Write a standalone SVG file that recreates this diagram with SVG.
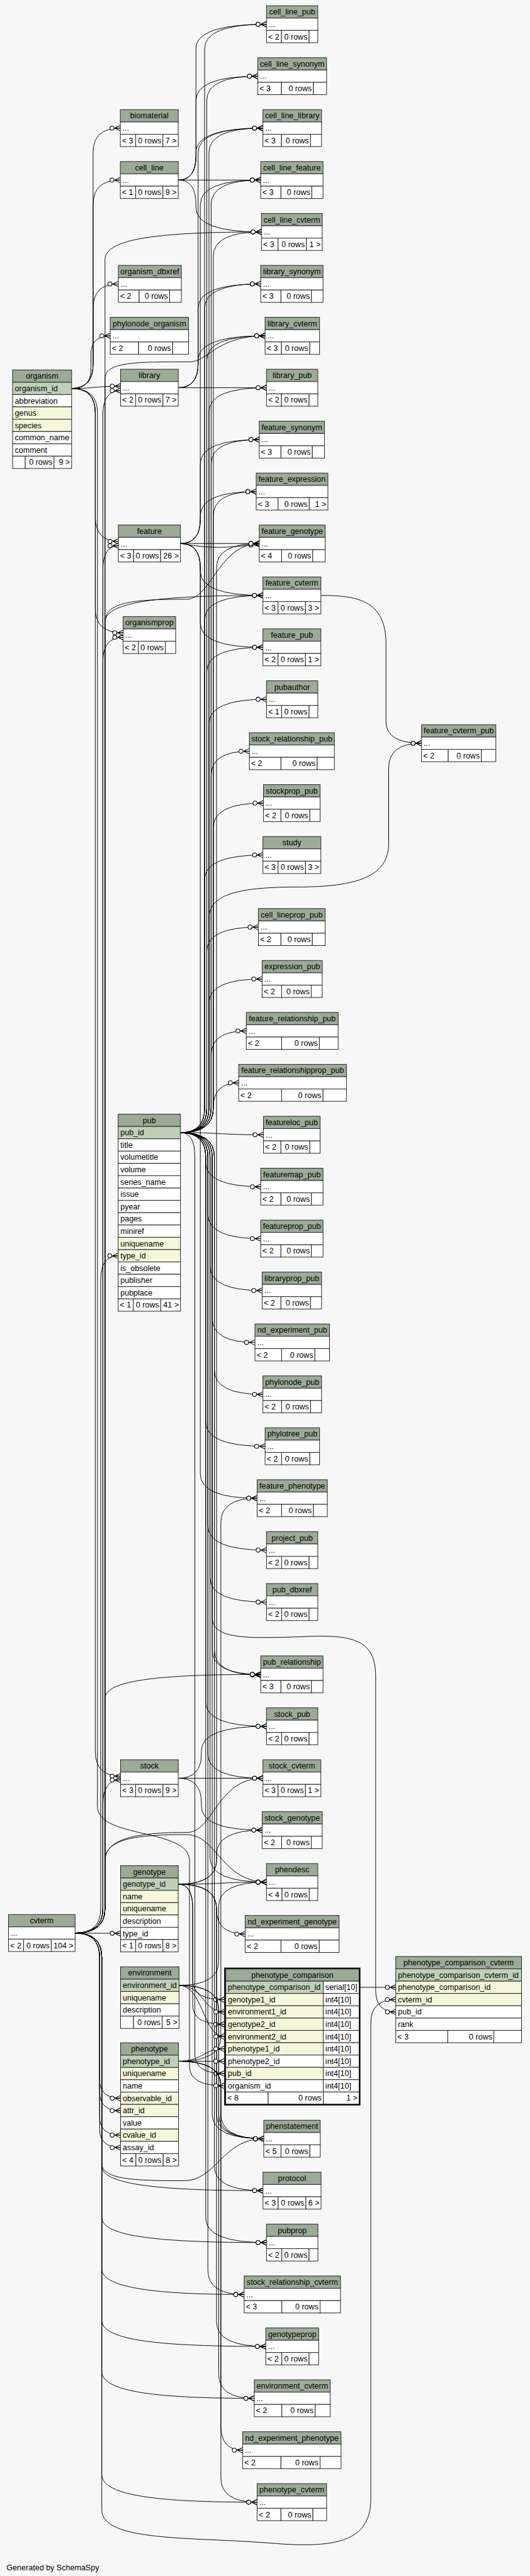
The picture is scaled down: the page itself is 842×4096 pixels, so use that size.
<svg xmlns="http://www.w3.org/2000/svg" width="842" height="4096" viewBox="0 0 842 4096">
<defs>
<style>
.t text{font-family:"Liberation Sans",Arial,Helvetica,sans-serif;font-size:14.6px;fill:#000}
.t .h{text-anchor:middle}
.t .r{text-anchor:end}
.t rect{stroke:#2b2b2b;stroke-width:1.2}
.hd{fill:#9bab96}
.pk{fill:#bed1b8}
.ix{fill:#f4f7da}
.rw{fill:#fff}
.e path{fill:none;stroke:#000;stroke-width:1.1;marker-end:url(#cf)}
</style>
<marker id="cf" viewBox="-21 -7 23 14" refX="0" refY="0" markerWidth="23" markerHeight="14" markerUnits="userSpaceOnUse" orient="auto">
<path d="M-10.5,0L0,-5M-10.5,0L0,0M-10.5,0L0,5" fill="none" stroke="#000" stroke-width="1.2"/>
<circle cx="-15.5" cy="0" r="3.8" fill="#fff" stroke="#000" stroke-width="1.2"/>
</marker>
</defs>
<rect width="842" height="4096" fill="#f7f7f7"/>
<g transform="scale(0.86)">
<g id="connectors" class="e">
<path d="M329.3,332.9Q362,332.9 362,288L362,90Q362,44.9 492.3,44.9"/>
<path d="M329.3,332.9Q362,332.9 362,288L362,186Q362,140.9 476.3,140.9"/>
<path d="M329.3,332.9Q362,332.9 362,288L362,282Q362,236.9 485.7,236.9"/>
<path d="M329.3,332.9L481.7,332.9"/>
<path d="M329.3,332.9Q362,332.9 362,378L362,384Q362,428.9 483,428.9"/>
<path d="M329.3,716.9Q366,716.9 366,672L366,282Q366,236.9 485.7,236.9"/>
<path d="M329.3,716.9Q366,716.9 366,672L366,570Q366,524.9 481.7,524.9"/>
<path d="M329.3,716.9Q366,716.9 366,672L366,666Q366,620.9 489.7,620.9"/>
<path d="M329.3,716.9L492.3,716.9"/>
<path d="M333.3,1004.9Q370,1004.9 370,960L370,378Q370,332.9 481.7,332.9"/>
<path d="M333.3,1004.9Q370,1004.9 370,960L370,858Q370,812.9 479,812.9"/>
<path d="M333.3,1004.9Q370,1004.9 370,960L370,954Q370,908.9 473.3,908.9"/>
<path d="M333.3,1004.9L479,1004.9"/>
<path d="M333.3,1004.9C400,1016 420,1012 479,1006"/>
<path d="M333.3,1004.9Q370,1004.9 370,1050L370,1056Q370,1100.9 485.7,1100.9"/>
<path d="M333.3,1004.9Q370,1004.9 370,1050L370,1152Q370,1196.9 485.7,1196.9"/>
<path d="M333.3,1004.9Q370,1004.9 370,1050L370,2725Q370,2770.1 475,2770.1"/>
<path d="M333.3,2094.2Q378,2094.2 378,2049L378,90Q378,44.9 492.3,44.9"/>
<path d="M333.3,2094.2Q382,2094.2 382,2049L382,186Q382,140.9 476.3,140.9"/>
<path d="M333.3,2094.2Q386,2094.2 386,2049L386,282Q386,236.9 485.7,236.9"/>
<path d="M333.3,2094.2Q390,2094.2 390,2049L390,378Q390,332.9 481.7,332.9"/>
<path d="M333.3,2094.2Q394,2094.2 394,2049L394,474Q394,428.9 483,428.9"/>
<path d="M333.3,2094.2Q378,2094.2 378,2049L378,570Q378,524.9 481.7,524.9"/>
<path d="M333.3,2094.2Q382,2094.2 382,2049L382,666Q382,620.9 489.7,620.9"/>
<path d="M333.3,2094.2Q386,2094.2 386,2049L386,762Q386,716.9 492.3,716.9"/>
<path d="M333.3,2094.2Q390,2094.2 390,2049L390,858Q390,812.9 479,812.9"/>
<path d="M333.3,2094.2Q394,2094.2 394,2049L394,954Q394,908.9 473.3,908.9"/>
<path d="M333.3,2094.2Q378,2094.2 378,2049L378,1146Q378,1100.9 485.7,1100.9"/>
<path d="M333.3,2094.2Q382,2094.2 382,2049L382,1242Q382,1196.9 485.7,1196.9"/>
<path d="M333.3,2094.2Q386,2094.2 386,2049L386,1338Q386,1292.9 492.3,1292.9"/>
<path d="M333.3,2094.2Q390,2094.2 390,2049L390,1434Q390,1388.9 460.7,1388.9"/>
<path d="M333.3,2094.2Q394,2094.2 394,2049L394,1530Q394,1484.9 486.7,1484.9"/>
<path d="M333.3,2094.2Q378,2094.2 378,2049L378,1626Q378,1580.9 485.7,1580.9"/>
<path d="M333.3,2094.2Q382,2094.2 382,2049L382,1759Q382,1714.1 477.3,1714.1"/>
<path d="M333.3,2094.2Q386,2094.2 386,2049L386,1855Q386,1810.1 484.3,1810.1"/>
<path d="M333.3,2094.2Q390,2094.2 390,2049L390,1951Q390,1906.1 455,1906.1"/>
<path d="M333.3,2094.2Q394,2094.2 394,2049L394,2047Q394,2002.1 441,2002.1"/>
<path d="M333.3,2094.2C410,2094.2 410,2098.1 486.7,2098.1"/>
<path d="M333.3,2094.2Q380,2094.2 380,2139L380,2149Q380,2194.1 481.7,2194.1"/>
<path d="M333.3,2094.2Q384,2094.2 384,2139L384,2245Q384,2290.1 481.7,2290.1"/>
<path d="M333.3,2094.2Q388,2094.2 388,2139L388,2341Q388,2386.1 484.3,2386.1"/>
<path d="M333.3,2094.2Q392,2094.2 392,2139L392,2437Q392,2482.1 471,2482.1"/>
<path d="M333.3,2094.2Q396,2094.2 396,2139L396,2533Q396,2578.1 485.7,2578.1"/>
<path d="M333.3,2094.2Q380,2094.2 380,2139L380,2629Q380,2674.1 489.7,2674.1"/>
<path d="M333.3,2094.2Q384,2094.2 384,2139L384,2821Q384,2866.1 492.3,2866.1"/>
<path d="M333.3,2094.2Q388,2094.2 388,2139L388,2917Q388,2962.1 492.3,2962.1"/>
<path d="M333.3,2094.2Q392,2094.2 392,2139L392,3051Q392,3095.8 481.7,3095.8"/>
<path d="M333.3,2094.2Q396,2094.2 396,2139L396,3051Q396,3097 481.7,3097"/>
<path d="M333.3,2094.2Q380,2094.2 380,2139L380,3147Q380,3191.8 492.3,3191.8"/>
<path d="M333.3,2094.2Q384,2094.2 384,2139L384,3243Q384,3287.8 485.7,3287.8"/>
<path d="M333.3,2094.2Q388,2094.2 388,2139L388,3435Q388,3479.8 492.3,3479.8"/>
<path d="M333.3,2094.2Q360,2094.2 360,2139L360,3799Q360,3833.8 414.1,3833.8"/>
<path d="M333.3,2094.2Q392,2094.2 392,2139L392,3909Q392,3954.3 487.3,3954.3"/>
<path d="M333.3,2094.2Q396,2094.2 396,2139L396,4005Q396,4050.3 485.8,4050.3"/>
<path d="M333.3,2094.2Q380,2094.2 380,2139L380,4101Q380,4146.3 492.3,4146.3"/>
<path d="M333.3,2094.2Q384,2094.2 384,2139L384,4197Q384,4242.3 451,4242.3"/>
<path d="M333.3,2094.2Q386,2094.2 386,2049L386,1700C386,1660 420,1640 550,1640C660,1640 718,1620 718,1560L718,1420Q718,1374.2 778.7,1374.2"/>
<path d="M333.3,2094.2Q392,2094.2 392,2139L392,2990C392,3030 450,3030 560,3026C650,3022 694,3030 694,3100L694,3680Q694,3719.9 731.1,3719.9"/>
<path d="M592.7,1100.9C660,1100.9 713,1110 713,1190L713,1334Q713,1374.2 778.7,1374.2"/>
<path d="M329.3,3287.8Q372,3287.8 372,3243L372,3237Q372,3191.8 492.3,3191.8"/>
<path d="M329.3,3287.8L485.7,3287.8"/>
<path d="M329.3,3287.8Q372,3287.8 372,3333L372,3339Q372,3383.8 484.3,3383.8"/>
<path d="M329.3,3483.7Q400,3483.7 400,3439L400,1050Q400,1004.9 479,1004.9"/>
<path d="M329.3,3483.7Q400,3483.7 400,3439L400,3429Q400,3383.8 484.3,3383.8"/>
<path d="M329.3,3483.7C410,3483.7 410,3479.8 492.3,3479.8"/>
<path d="M329.3,3483.7Q400,3483.7 400,3529L400,3531Q400,3575.8 452.9,3575.8"/>
<path d="M329.3,3483.7Q356,3483.7 356,3529L356,3662Q356,3697.1 414.1,3697.1"/>
<path d="M329.3,3483.7Q356,3483.7 356,3529L356,3708Q356,3742.7 414.1,3742.7"/>
<path d="M329.3,3483.7Q400,3483.7 400,3529L400,3909Q400,3954.3 487.3,3954.3"/>
<path d="M329.3,3483.7Q400,3483.7 400,3529L400,4293Q400,4338.3 491,4338.3"/>
<path d="M330.7,3670.7Q404,3670.7 404,3626L404,3525Q404,3479.8 492.3,3479.8"/>
<path d="M330.7,3670.7C375,3670.7 375,3719.9 414.1,3719.9"/>
<path d="M330.7,3670.7C375,3670.7 375,3765.5 414.1,3765.5"/>
<path d="M330.7,3670.7Q404,3670.7 404,3716L404,3909Q404,3954.3 487.3,3954.3"/>
<path d="M330.7,3670.7Q404,3670.7 404,3716L404,4389Q404,4434.3 469.7,4434.3"/>
<path d="M329.7,3811Q408,3811 408,3766L408,2815Q408,2770.1 475,2770.1"/>
<path d="M329.7,3811C375,3811 375,3788.2 414.1,3788.2"/>
<path d="M329.7,3811L414.1,3811"/>
<path d="M329.7,3811Q408,3811 408,3856L408,3909Q408,3954.3 487.3,3954.3"/>
<path d="M329.7,3811Q408,3811 408,3856L408,4485Q408,4530.3 448.3,4530.3"/>
<path d="M329.7,3811Q408,3811 408,3856L408,4581Q408,4626.3 475,4626.3"/>
<path d="M132.3,718.2Q172,718.2 172,673L172,282Q172,236.9 222.3,236.9"/>
<path d="M132.3,718.2Q172,718.2 172,673L172,378Q172,332.9 222.3,332.9"/>
<path d="M132.3,718.2Q172,718.2 172,673L172,570Q172,524.9 218.7,524.9"/>
<path d="M132.3,718.2Q168,718.2 168,683L168,655Q168,620.9 203.7,620.9"/>
<path d="M132.3,718.2C175,718.2 175,714 222.7,714"/>
<path d="M132.3,718.2Q176,718.2 176,763L176,955Q176,1000.9 218.7,1000.9"/>
<path d="M132.3,718.2Q176,718.2 176,763L176,1125Q176,1170.2 227.5,1170.2"/>
<path d="M132.3,718.2Q176,718.2 176,763L176,3238Q176,3284 222.7,3284"/>
<path d="M132.3,718.2Q180,718.2 180,763L180,3340C180,3400 350,3380 350,3440L350,3820Q350,3856.5 414.1,3856.5"/>
<path d="M138.7,3574Q186,3574 186,3529L186,2367Q186,2321.9 218.3,2321.9"/>
<path d="M138.7,3574L222.7,3574.7"/>
<path d="M138.7,3574Q190,3574 190,3529L190,767Q190,722 222.7,722"/>
<path d="M138.7,3574Q190,3574 190,3529L190,1054Q190,1009 218.7,1009"/>
<path d="M138.7,3574Q190,3574 190,3529L190,1223Q190,1178.2 227.5,1178.2"/>
<path d="M138.7,3574Q190,3574 190,3529L190,3336Q190,3291 222.7,3291"/>
<path d="M138.7,3574Q184,3574 184,3619L184,3845Q184,3879.5 222.7,3879.5"/>
<path d="M138.7,3574Q184,3574 184,3619L184,3868Q184,3902.3 222.7,3902.3"/>
<path d="M138.7,3574Q184,3574 184,3619L184,3913Q184,3947.8 222.7,3947.8"/>
<path d="M138.7,3574Q184,3574 184,3619L184,3936Q184,3970.6 222.7,3970.6"/>
<path d="M138.7,3574Q194,3574 194,3529L194,480C194,440 300,428.9 483,428.9"/>
<path d="M138.7,3574Q194,3574 194,3529L194,700C194,669 250,669 350,669C385,669 400,620.9 489.7,620.9"/>
<path d="M138.7,3574Q194,3574 194,3529L194,1150C194,1112 250,1108 345,1108C390,1108 405,1004.9 479,1004.9"/>
<path d="M138.7,3574Q194,3574 194,3529L194,1150C194,1112 300,1100.9 485.7,1100.9"/>
<path d="M138.7,3574Q194,3574 194,3529L194,3140C194,3106 300,3095.8 481.7,3095.8"/>
<path d="M138.7,3574Q194,3574 194,3529L194,3440C194,3400 250,3388 345,3388C395,3388 400,3287.8 485.7,3287.8"/>
<path d="M138.7,3574Q194,3574 194,3529L194,3440C194,3400 250,3392 345,3392C400,3392 410,3479.8 492.3,3479.8"/>
<path d="M138.7,3574Q188,3574 188,3619L188,4000C188,4030 250,4032 340,4032C400,4032 410,3954.3 487.3,3954.3"/>
<path d="M138.7,3574Q188,3574 188,3619L188,4005C188,4040 300,4050.3 485.8,4050.3"/>
<path d="M138.7,3574Q188,3574 188,3619L188,4100C188,4136 300,4146.3 492.3,4146.3"/>
<path d="M138.7,3574Q188,3574 188,3619L188,4195C188,4232 300,4242.3 451,4242.3"/>
<path d="M138.7,3574Q188,3574 188,3619L188,4290C188,4328 300,4338.3 491,4338.3"/>
<path d="M138.7,3574Q188,3574 188,3619L188,4385C188,4424 300,4434.3 469.7,4434.3"/>
<path d="M138.7,3574Q188,3574 188,3619L188,4575C188,4616 300,4626.3 475,4626.3"/>
<path d="M138.7,3574Q188,3574 188,3619L188,4640C188,4700 350,4690 500,4702C620,4712 685,4700 685,4620L685,3740Q685,3697.1 731.1,3697.1"/>
<path d="M664.8,3674.4L731.1,3674.4"/>
</g>
<g id="tables" class="t">
<g id="cell_line_pub" transform="translate(492.3,10.7)"><rect class="hd" width="94.7" height="22.77"/><rect class="rw" y="22.77" width="94.7" height="22.77"/><rect class="rw" y="45.54" width="27.7" height="22.77"/><rect class="rw" x="27.7" y="45.54" width="51" height="22.77"/><rect class="rw" x="78.7" y="45.54" width="16" height="22.77"/><text class="h" x="47.35" y="16.4">cell_line_pub</text><text x="4" y="39.2">...</text><text x="3" y="62">&lt; 2</text><text class="r" x="75.7" y="62">0 rows</text></g>
<g id="cell_line_synonym" transform="translate(476.3,106.7)"><rect class="hd" width="127" height="22.77"/><rect class="rw" y="22.77" width="127" height="22.77"/><rect class="rw" y="45.54" width="43.7" height="22.77"/><rect class="rw" x="43.7" y="45.54" width="59" height="22.77"/><rect class="rw" x="102.7" y="45.54" width="24.3" height="22.77"/><text class="h" x="63.5" y="16.4">cell_line_synonym</text><text x="4" y="39.2">...</text><text x="3" y="62">&lt; 3</text><text class="r" x="99.7" y="62">0 rows</text></g>
<g id="cell_line_library" transform="translate(485.7,202.7)"><rect class="hd" width="108.3" height="22.77"/><rect class="rw" y="22.77" width="108.3" height="22.77"/><rect class="rw" y="45.54" width="34.3" height="22.77"/><rect class="rw" x="34.3" y="45.54" width="53.7" height="22.77"/><rect class="rw" x="88" y="45.54" width="20.3" height="22.77"/><text class="h" x="54.15" y="16.4">cell_line_library</text><text x="4" y="39.2">...</text><text x="3" y="62">&lt; 3</text><text class="r" x="85" y="62">0 rows</text></g>
<g id="cell_line_feature" transform="translate(481.7,298.7)"><rect class="hd" width="115" height="22.77"/><rect class="rw" y="22.77" width="115" height="22.77"/><rect class="rw" y="45.54" width="37.3" height="22.77"/><rect class="rw" x="37.3" y="45.54" width="57" height="22.77"/><rect class="rw" x="94.3" y="45.54" width="20.7" height="22.77"/><text class="h" x="57.5" y="16.4">cell_line_feature</text><text x="4" y="39.2">...</text><text x="3" y="62">&lt; 3</text><text class="r" x="91.3" y="62">0 rows</text></g>
<g id="cell_line_cvterm" transform="translate(483,394.7)"><rect class="hd" width="112.3" height="22.77"/><rect class="rw" y="22.77" width="112.3" height="22.77"/><rect class="rw" y="45.54" width="30.7" height="22.77"/><rect class="rw" x="30.7" y="45.54" width="52.3" height="22.77"/><rect class="rw" x="83" y="45.54" width="29.3" height="22.77"/><text class="h" x="56.15" y="16.4">cell_line_cvterm</text><text x="4" y="39.2">...</text><text x="3" y="62">&lt; 3</text><text class="r" x="80" y="62">0 rows</text><text class="r" x="109.3" y="62">1 &gt;</text></g>
<g id="library_synonym" transform="translate(481.7,490.7)"><rect class="hd" width="115" height="22.77"/><rect class="rw" y="22.77" width="115" height="22.77"/><rect class="rw" y="45.54" width="37.3" height="22.77"/><rect class="rw" x="37.3" y="45.54" width="56.3" height="22.77"/><rect class="rw" x="93.6" y="45.54" width="21.4" height="22.77"/><text class="h" x="57.5" y="16.4">library_synonym</text><text x="4" y="39.2">...</text><text x="3" y="62">&lt; 3</text><text class="r" x="90.6" y="62">0 rows</text></g>
<g id="library_cvterm" transform="translate(489.7,586.7)"><rect class="hd" width="100.6" height="22.77"/><rect class="rw" y="22.77" width="100.6" height="22.77"/><rect class="rw" y="45.54" width="30.3" height="22.77"/><rect class="rw" x="30.3" y="45.54" width="52.3" height="22.77"/><rect class="rw" x="82.6" y="45.54" width="18" height="22.77"/><text class="h" x="50.3" y="16.4">library_cvterm</text><text x="4" y="39.2">...</text><text x="3" y="62">&lt; 3</text><text class="r" x="79.6" y="62">0 rows</text></g>
<g id="library_pub" transform="translate(492.3,682.7)"><rect class="hd" width="94.7" height="22.77"/><rect class="rw" y="22.77" width="94.7" height="22.77"/><rect class="rw" y="45.54" width="27.7" height="22.77"/><rect class="rw" x="27.7" y="45.54" width="51" height="22.77"/><rect class="rw" x="78.7" y="45.54" width="16" height="22.77"/><text class="h" x="47.35" y="16.4">library_pub</text><text x="4" y="39.2">...</text><text x="3" y="62">&lt; 2</text><text class="r" x="75.7" y="62">0 rows</text></g>
<g id="feature_synonym" transform="translate(479,778.7)"><rect class="hd" width="120.3" height="22.77"/><rect class="rw" y="22.77" width="120.3" height="22.77"/><rect class="rw" y="45.54" width="40" height="22.77"/><rect class="rw" x="40" y="45.54" width="58" height="22.77"/><rect class="rw" x="98" y="45.54" width="22.3" height="22.77"/><text class="h" x="60.15" y="16.4">feature_synonym</text><text x="4" y="39.2">...</text><text x="3" y="62">&lt; 3</text><text class="r" x="95" y="62">0 rows</text></g>
<g id="feature_expression" transform="translate(473.3,874.7)"><rect class="hd" width="132.4" height="22.77"/><rect class="rw" y="22.77" width="132.4" height="22.77"/><rect class="rw" y="45.54" width="40.4" height="22.77"/><rect class="rw" x="40.4" y="45.54" width="57.6" height="22.77"/><rect class="rw" x="98" y="45.54" width="34.4" height="22.77"/><text class="h" x="66.2" y="16.4">feature_expression</text><text x="4" y="39.2">...</text><text x="3" y="62">&lt; 3</text><text class="r" x="95" y="62">0 rows</text><text class="r" x="129.4" y="62">1 &gt;</text></g>
<g id="feature_genotype" transform="translate(479,970.7)"><rect class="hd" width="121.7" height="22.77"/><rect class="rw" y="22.77" width="121.7" height="22.77"/><rect class="rw" y="45.54" width="41.3" height="22.77"/><rect class="rw" x="41.3" y="45.54" width="57.4" height="22.77"/><rect class="rw" x="98.7" y="45.54" width="23" height="22.77"/><text class="h" x="60.85" y="16.4">feature_genotype</text><text x="4" y="39.2">...</text><text x="3" y="62">&lt; 4</text><text class="r" x="95.7" y="62">0 rows</text></g>
<g id="feature_cvterm" transform="translate(485.7,1066.7)"><rect class="hd" width="107" height="22.77"/><rect class="rw" y="22.77" width="107" height="22.77"/><rect class="rw" y="45.54" width="28" height="22.77"/><rect class="rw" x="28" y="45.54" width="50.6" height="22.77"/><rect class="rw" x="78.6" y="45.54" width="28.4" height="22.77"/><text class="h" x="53.5" y="16.4">feature_cvterm</text><text x="4" y="39.2">...</text><text x="3" y="62">&lt; 3</text><text class="r" x="75.6" y="62">0 rows</text><text class="r" x="104" y="62">3 &gt;</text></g>
<g id="feature_pub" transform="translate(485.7,1162.7)"><rect class="hd" width="107" height="22.77"/><rect class="rw" y="22.77" width="107" height="22.77"/><rect class="rw" y="45.54" width="28" height="22.77"/><rect class="rw" x="28" y="45.54" width="50.6" height="22.77"/><rect class="rw" x="78.6" y="45.54" width="28.4" height="22.77"/><text class="h" x="53.5" y="16.4">feature_pub</text><text x="4" y="39.2">...</text><text x="3" y="62">&lt; 2</text><text class="r" x="75.6" y="62">0 rows</text><text class="r" x="104" y="62">1 &gt;</text></g>
<g id="pubauthor" transform="translate(492.3,1258.7)"><rect class="hd" width="94.7" height="22.77"/><rect class="rw" y="22.77" width="94.7" height="22.77"/><rect class="rw" y="45.54" width="28" height="22.77"/><rect class="rw" x="28" y="45.54" width="50.7" height="22.77"/><rect class="rw" x="78.7" y="45.54" width="16" height="22.77"/><text class="h" x="47.35" y="16.4">pubauthor</text><text x="4" y="39.2">...</text><text x="3" y="62">&lt; 1</text><text class="r" x="75.7" y="62">0 rows</text></g>
<g id="stock_relationship_pub" transform="translate(460.7,1354.7)"><rect class="hd" width="157" height="22.77"/><rect class="rw" y="22.77" width="157" height="22.77"/><rect class="rw" y="45.54" width="58.3" height="22.77"/><rect class="rw" x="58.3" y="45.54" width="67" height="22.77"/><rect class="rw" x="125.3" y="45.54" width="31.7" height="22.77"/><text class="h" x="78.5" y="16.4">stock_relationship_pub</text><text x="4" y="39.2">...</text><text x="3" y="62">&lt; 2</text><text class="r" x="122.3" y="62">0 rows</text></g>
<g id="stockprop_pub" transform="translate(486.7,1450.7)"><rect class="hd" width="104.6" height="22.77"/><rect class="rw" y="22.77" width="104.6" height="22.77"/><rect class="rw" y="45.54" width="32.3" height="22.77"/><rect class="rw" x="32.3" y="45.54" width="53.3" height="22.77"/><rect class="rw" x="85.6" y="45.54" width="19" height="22.77"/><text class="h" x="52.3" y="16.4">stockprop_pub</text><text x="4" y="39.2">...</text><text x="3" y="62">&lt; 2</text><text class="r" x="82.6" y="62">0 rows</text></g>
<g id="study" transform="translate(485.7,1546.7)"><rect class="hd" width="107" height="22.77"/><rect class="rw" y="22.77" width="107" height="22.77"/><rect class="rw" y="45.54" width="28" height="22.77"/><rect class="rw" x="28" y="45.54" width="50.6" height="22.77"/><rect class="rw" x="78.6" y="45.54" width="28.4" height="22.77"/><text class="h" x="53.5" y="16.4">study</text><text x="4" y="39.2">...</text><text x="3" y="62">&lt; 3</text><text class="r" x="75.6" y="62">0 rows</text><text class="r" x="104" y="62">3 &gt;</text></g>
<g id="cell_lineprop_pub" transform="translate(477.3,1679.9)"><rect class="hd" width="123.4" height="22.77"/><rect class="rw" y="22.77" width="123.4" height="22.77"/><rect class="rw" y="45.54" width="41.7" height="22.77"/><rect class="rw" x="41.7" y="45.54" width="58" height="22.77"/><rect class="rw" x="99.7" y="45.54" width="23.7" height="22.77"/><text class="h" x="61.7" y="16.4">cell_lineprop_pub</text><text x="4" y="39.2">...</text><text x="3" y="62">&lt; 2</text><text class="r" x="96.7" y="62">0 rows</text></g>
<g id="expression_pub" transform="translate(484.3,1775.9)"><rect class="hd" width="111" height="22.77"/><rect class="rw" y="22.77" width="111" height="22.77"/><rect class="rw" y="45.54" width="36" height="22.77"/><rect class="rw" x="36" y="45.54" width="54.7" height="22.77"/><rect class="rw" x="90.7" y="45.54" width="20.3" height="22.77"/><text class="h" x="55.5" y="16.4">expression_pub</text><text x="4" y="39.2">...</text><text x="3" y="62">&lt; 2</text><text class="r" x="87.7" y="62">0 rows</text></g>
<g id="feature_relationship_pub" transform="translate(455,1871.9)"><rect class="hd" width="169.7" height="22.77"/><rect class="rw" y="22.77" width="169.7" height="22.77"/><rect class="rw" y="45.54" width="65.3" height="22.77"/><rect class="rw" x="65.3" y="45.54" width="69.7" height="22.77"/><rect class="rw" x="135" y="45.54" width="34.7" height="22.77"/><text class="h" x="84.85" y="16.4">feature_relationship_pub</text><text x="4" y="39.2">...</text><text x="3" y="62">&lt; 2</text><text class="r" x="132" y="62">0 rows</text></g>
<g id="feature_relationshipprop_pub" transform="translate(441,1967.9)"><rect class="hd" width="199" height="22.77"/><rect class="rw" y="22.77" width="199" height="22.77"/><rect class="rw" y="45.54" width="79.3" height="22.77"/><rect class="rw" x="79.3" y="45.54" width="76.4" height="22.77"/><rect class="rw" x="155.7" y="45.54" width="43.3" height="22.77"/><text class="h" x="99.5" y="16.4">feature_relationshipprop_pub</text><text x="4" y="39.2">...</text><text x="3" y="62">&lt; 2</text><text class="r" x="152.7" y="62">0 rows</text></g>
<g id="featureloc_pub" transform="translate(486.7,2063.9)"><rect class="hd" width="104.6" height="22.77"/><rect class="rw" y="22.77" width="104.6" height="22.77"/><rect class="rw" y="45.54" width="32.3" height="22.77"/><rect class="rw" x="32.3" y="45.54" width="53.3" height="22.77"/><rect class="rw" x="85.6" y="45.54" width="19" height="22.77"/><text class="h" x="52.3" y="16.4">featureloc_pub</text><text x="4" y="39.2">...</text><text x="3" y="62">&lt; 2</text><text class="r" x="82.6" y="62">0 rows</text></g>
<g id="featuremap_pub" transform="translate(481.7,2159.9)"><rect class="hd" width="115" height="22.77"/><rect class="rw" y="22.77" width="115" height="22.77"/><rect class="rw" y="45.54" width="37.3" height="22.77"/><rect class="rw" x="37.3" y="45.54" width="56.3" height="22.77"/><rect class="rw" x="93.6" y="45.54" width="21.4" height="22.77"/><text class="h" x="57.5" y="16.4">featuremap_pub</text><text x="4" y="39.2">...</text><text x="3" y="62">&lt; 2</text><text class="r" x="90.6" y="62">0 rows</text></g>
<g id="featureprop_pub" transform="translate(481.7,2255.9)"><rect class="hd" width="115" height="22.77"/><rect class="rw" y="22.77" width="115" height="22.77"/><rect class="rw" y="45.54" width="37.3" height="22.77"/><rect class="rw" x="37.3" y="45.54" width="56.3" height="22.77"/><rect class="rw" x="93.6" y="45.54" width="21.4" height="22.77"/><text class="h" x="57.5" y="16.4">featureprop_pub</text><text x="4" y="39.2">...</text><text x="3" y="62">&lt; 2</text><text class="r" x="90.6" y="62">0 rows</text></g>
<g id="libraryprop_pub" transform="translate(484.3,2351.9)"><rect class="hd" width="109.7" height="22.77"/><rect class="rw" y="22.77" width="109.7" height="22.77"/><rect class="rw" y="45.54" width="34.7" height="22.77"/><rect class="rw" x="34.7" y="45.54" width="54.7" height="22.77"/><rect class="rw" x="89.4" y="45.54" width="20.3" height="22.77"/><text class="h" x="54.85" y="16.4">libraryprop_pub</text><text x="4" y="39.2">...</text><text x="3" y="62">&lt; 2</text><text class="r" x="86.4" y="62">0 rows</text></g>
<g id="nd_experiment_pub" transform="translate(471,2447.9)"><rect class="hd" width="137.7" height="22.77"/><rect class="rw" y="22.77" width="137.7" height="22.77"/><rect class="rw" y="45.54" width="49.3" height="22.77"/><rect class="rw" x="49.3" y="45.54" width="61.4" height="22.77"/><rect class="rw" x="110.7" y="45.54" width="27" height="22.77"/><text class="h" x="68.85" y="16.4">nd_experiment_pub</text><text x="4" y="39.2">...</text><text x="3" y="62">&lt; 2</text><text class="r" x="107.7" y="62">0 rows</text></g>
<g id="phylonode_pub" transform="translate(485.7,2543.9)"><rect class="hd" width="108.3" height="22.77"/><rect class="rw" y="22.77" width="108.3" height="22.77"/><rect class="rw" y="45.54" width="34.6" height="22.77"/><rect class="rw" x="34.6" y="45.54" width="53.4" height="22.77"/><rect class="rw" x="88" y="45.54" width="20.3" height="22.77"/><text class="h" x="54.15" y="16.4">phylonode_pub</text><text x="4" y="39.2">...</text><text x="3" y="62">&lt; 2</text><text class="r" x="85" y="62">0 rows</text></g>
<g id="phylotree_pub" transform="translate(489.7,2639.9)"><rect class="hd" width="100.6" height="22.77"/><rect class="rw" y="22.77" width="100.6" height="22.77"/><rect class="rw" y="45.54" width="30.6" height="22.77"/><rect class="rw" x="30.6" y="45.54" width="52" height="22.77"/><rect class="rw" x="82.6" y="45.54" width="18" height="22.77"/><text class="h" x="50.3" y="16.4">phylotree_pub</text><text x="4" y="39.2">...</text><text x="3" y="62">&lt; 2</text><text class="r" x="79.6" y="62">0 rows</text></g>
<g id="feature_phenotype" transform="translate(475,2735.9)"><rect class="hd" width="129.7" height="22.77"/><rect class="rw" y="22.77" width="129.7" height="22.77"/><rect class="rw" y="45.54" width="45.3" height="22.77"/><rect class="rw" x="45.3" y="45.54" width="58.7" height="22.77"/><rect class="rw" x="104" y="45.54" width="25.7" height="22.77"/><text class="h" x="64.85" y="16.4">feature_phenotype</text><text x="4" y="39.2">...</text><text x="3" y="62">&lt; 2</text><text class="r" x="101" y="62">0 rows</text></g>
<g id="project_pub" transform="translate(492.3,2831.9)"><rect class="hd" width="94.7" height="22.77"/><rect class="rw" y="22.77" width="94.7" height="22.77"/><rect class="rw" y="45.54" width="28" height="22.77"/><rect class="rw" x="28" y="45.54" width="50.7" height="22.77"/><rect class="rw" x="78.7" y="45.54" width="16" height="22.77"/><text class="h" x="47.35" y="16.4">project_pub</text><text x="4" y="39.2">...</text><text x="3" y="62">&lt; 2</text><text class="r" x="75.7" y="62">0 rows</text></g>
<g id="pub_dbxref" transform="translate(492.3,2927.9)"><rect class="hd" width="94.7" height="22.77"/><rect class="rw" y="22.77" width="94.7" height="22.77"/><rect class="rw" y="45.54" width="28" height="22.77"/><rect class="rw" x="28" y="45.54" width="50.7" height="22.77"/><rect class="rw" x="78.7" y="45.54" width="16" height="22.77"/><text class="h" x="47.35" y="16.4">pub_dbxref</text><text x="4" y="39.2">...</text><text x="3" y="62">&lt; 2</text><text class="r" x="75.7" y="62">0 rows</text></g>
<g id="pub_relationship" transform="translate(481.7,3061.6)"><rect class="hd" width="115" height="22.77"/><rect class="rw" y="22.77" width="115" height="22.77"/><rect class="rw" y="45.54" width="37.3" height="22.77"/><rect class="rw" x="37.3" y="45.54" width="56.3" height="22.77"/><rect class="rw" x="93.6" y="45.54" width="21.4" height="22.77"/><text class="h" x="57.5" y="16.4">pub_relationship</text><text x="4" y="39.2">...</text><text x="3" y="62">&lt; 3</text><text class="r" x="90.6" y="62">0 rows</text></g>
<g id="stock_pub" transform="translate(492.3,3157.6)"><rect class="hd" width="94.7" height="22.77"/><rect class="rw" y="22.77" width="94.7" height="22.77"/><rect class="rw" y="45.54" width="28" height="22.77"/><rect class="rw" x="28" y="45.54" width="50.7" height="22.77"/><rect class="rw" x="78.7" y="45.54" width="16" height="22.77"/><text class="h" x="47.35" y="16.4">stock_pub</text><text x="4" y="39.2">...</text><text x="3" y="62">&lt; 2</text><text class="r" x="75.7" y="62">0 rows</text></g>
<g id="stock_cvterm" transform="translate(485.7,3253.6)"><rect class="hd" width="107" height="22.77"/><rect class="rw" y="22.77" width="107" height="22.77"/><rect class="rw" y="45.54" width="28" height="22.77"/><rect class="rw" x="28" y="45.54" width="50.6" height="22.77"/><rect class="rw" x="78.6" y="45.54" width="28.4" height="22.77"/><text class="h" x="53.5" y="16.4">stock_cvterm</text><text x="4" y="39.2">...</text><text x="3" y="62">&lt; 3</text><text class="r" x="75.6" y="62">0 rows</text><text class="r" x="104" y="62">1 &gt;</text></g>
<g id="stock_genotype" transform="translate(484.3,3349.6)"><rect class="hd" width="111" height="22.77"/><rect class="rw" y="22.77" width="111" height="22.77"/><rect class="rw" y="45.54" width="36" height="22.77"/><rect class="rw" x="36" y="45.54" width="54.7" height="22.77"/><rect class="rw" x="90.7" y="45.54" width="20.3" height="22.77"/><text class="h" x="55.5" y="16.4">stock_genotype</text><text x="4" y="39.2">...</text><text x="3" y="62">&lt; 2</text><text class="r" x="87.7" y="62">0 rows</text></g>
<g id="phendesc" transform="translate(492.3,3445.6)"><rect class="hd" width="94.7" height="22.77"/><rect class="rw" y="22.77" width="94.7" height="22.77"/><rect class="rw" y="45.54" width="28.7" height="22.77"/><rect class="rw" x="28.7" y="45.54" width="50.3" height="22.77"/><rect class="rw" x="79" y="45.54" width="15.7" height="22.77"/><text class="h" x="47.35" y="16.4">phendesc</text><text x="4" y="39.2">...</text><text x="3" y="62">&lt; 4</text><text class="r" x="76" y="62">0 rows</text></g>
<g id="nd_experiment_genotype" transform="translate(452.9,3541.6)"><rect class="hd" width="173.5" height="22.77"/><rect class="rw" y="22.77" width="173.5" height="22.77"/><rect class="rw" y="45.54" width="66.2" height="22.77"/><rect class="rw" x="66.2" y="45.54" width="70.7" height="22.77"/><rect class="rw" x="136.9" y="45.54" width="36.6" height="22.77"/><text class="h" x="86.75" y="16.4">nd_experiment_genotype</text><text x="4" y="39.2">...</text><text x="3" y="62">&lt; 2</text><text class="r" x="133.9" y="62">0 rows</text></g>
<g id="phenotype_comparison" transform="translate(417,3640.2)">
<rect class="hd" width="246.4" height="22.77"/>
<rect class="pk" y="22.77" width="180.2" height="22.77"/><rect class="rw" x="180.2" y="22.77" width="66.2" height="22.77"/>
<rect class="ix" y="45.54" width="180.2" height="22.77"/><rect class="rw" x="180.2" y="45.54" width="66.2" height="22.77"/>
<rect class="ix" y="68.31" width="180.2" height="22.77"/><rect class="rw" x="180.2" y="68.31" width="66.2" height="22.77"/>
<rect class="ix" y="91.08" width="180.2" height="22.77"/><rect class="rw" x="180.2" y="91.08" width="66.2" height="22.77"/>
<rect class="ix" y="113.85" width="180.2" height="22.77"/><rect class="rw" x="180.2" y="113.85" width="66.2" height="22.77"/>
<rect class="ix" y="136.62" width="180.2" height="22.77"/><rect class="rw" x="180.2" y="136.62" width="66.2" height="22.77"/>
<rect class="rw" y="159.39" width="180.2" height="22.77"/><rect class="rw" x="180.2" y="159.39" width="66.2" height="22.77"/>
<rect class="ix" y="182.16" width="180.2" height="22.77"/><rect class="rw" x="180.2" y="182.16" width="66.2" height="22.77"/>
<rect class="rw" y="204.93" width="180.2" height="22.77"/><rect class="rw" x="180.2" y="204.93" width="66.2" height="22.77"/>
<rect class="rw" y="227.7" width="78.4" height="22.77"/><rect class="rw" x="78.4" y="227.7" width="101.8" height="22.77"/><rect class="rw" x="180.2" y="227.7" width="66.2" height="22.77"/>
<rect x="-1.4" y="-0.8" width="248.8" height="252" style="fill:none;stroke:#111;stroke-width:3"/>
<text class="h" x="123.2" y="16.4">phenotype_comparison</text>
<text x="4" y="39.17">phenotype_comparison_id</text><text x="184" y="39.17">serial[10]</text>
<text x="4" y="61.94">genotype1_id</text><text x="184" y="61.94">int4[10]</text>
<text x="4" y="84.71">environment1_id</text><text x="184" y="84.71">int4[10]</text>
<text x="4" y="107.48">genotype2_id</text><text x="184" y="107.48">int4[10]</text>
<text x="4" y="130.25">environment2_id</text><text x="184" y="130.25">int4[10]</text>
<text x="4" y="153.02">phenotype1_id</text><text x="184" y="153.02">int4[10]</text>
<text x="4" y="175.79">phenotype2_id</text><text x="184" y="175.79">int4[10]</text>
<text x="4" y="198.56">pub_id</text><text x="184" y="198.56">int4[10]</text>
<text x="4" y="221.33">organism_id</text><text x="184" y="221.33">int4[10]</text>
<text x="3" y="244.1">&lt; 8</text><text class="r" x="177.2" y="244.1">0 rows</text><text class="r" x="243.4" y="244.1">1 &gt;</text>
</g>
<g id="phenotype_comparison_cvterm" transform="translate(731.1,3617.4)">
<rect class="hd" width="232.3" height="22.77"/>
<rect class="pk" y="22.77" width="232.3" height="22.77"/>
<rect class="ix" y="45.54" width="232.3" height="22.77"/>
<rect class="ix" y="68.31" width="232.3" height="22.77"/>
<rect class="rw" y="91.08" width="232.3" height="22.77"/>
<rect class="rw" y="113.85" width="232.3" height="22.77"/>
<rect class="rw" y="136.62" width="96.1" height="22.77"/><rect class="rw" x="96.1" y="136.62" width="85.1" height="22.77"/><rect class="rw" x="181.2" y="136.62" width="51.1" height="22.77"/>
<text class="h" x="116.15" y="16.4">phenotype_comparison_cvterm</text>
<text x="4" y="39.17">phenotype_comparison_cvterm_id</text>
<text x="4" y="61.94">phenotype_comparison_id</text>
<text x="4" y="84.71">cvterm_id</text>
<text x="4" y="107.48">pub_id</text>
<text x="4" y="130.25">rank</text>
<text x="3" y="153.02">&lt; 3</text><text class="r" x="178.2" y="153.02">0 rows</text>
</g>
<g id="phenstatement" transform="translate(487.3,3920.1)"><rect class="hd" width="104.3" height="22.77"/><rect class="rw" y="22.77" width="104.3" height="22.77"/><rect class="rw" y="45.54" width="31.8" height="22.77"/><rect class="rw" x="31.8" y="45.54" width="53.3" height="22.77"/><rect class="rw" x="85.1" y="45.54" width="19.2" height="22.77"/><text class="h" x="52.15" y="16.4">phenstatement</text><text x="4" y="39.2">...</text><text x="3" y="62">&lt; 5</text><text class="r" x="82.1" y="62">0 rows</text></g>
<g id="protocol" transform="translate(485.8,4016.1)"><rect class="hd" width="107.3" height="22.77"/><rect class="rw" y="22.77" width="107.3" height="22.77"/><rect class="rw" y="45.54" width="28.1" height="22.77"/><rect class="rw" x="28.1" y="45.54" width="51.1" height="22.77"/><rect class="rw" x="79.2" y="45.54" width="28.1" height="22.77"/><text class="h" x="53.65" y="16.4">protocol</text><text x="4" y="39.2">...</text><text x="3" y="62">&lt; 3</text><text class="r" x="76.2" y="62">0 rows</text><text class="r" x="104.3" y="62">6 &gt;</text></g>
<g id="pubprop" transform="translate(492.3,4112.1)"><rect class="hd" width="95" height="22.77"/><rect class="rw" y="22.77" width="95" height="22.77"/><rect class="rw" y="45.54" width="28.4" height="22.77"/><rect class="rw" x="28.4" y="45.54" width="50.3" height="22.77"/><rect class="rw" x="78.7" y="45.54" width="16.3" height="22.77"/><text class="h" x="47.5" y="16.4">pubprop</text><text x="4" y="39.2">...</text><text x="3" y="62">&lt; 2</text><text class="r" x="75.7" y="62">0 rows</text></g>
<g id="stock_relationship_cvterm" transform="translate(451,4208.1)"><rect class="hd" width="178" height="22.77"/><rect class="rw" y="22.77" width="178" height="22.77"/><rect class="rw" y="45.54" width="69.7" height="22.77"/><rect class="rw" x="69.7" y="45.54" width="70.6" height="22.77"/><rect class="rw" x="140.3" y="45.54" width="37.7" height="22.77"/><text class="h" x="89" y="16.4">stock_relationship_cvterm</text><text x="4" y="39.2">...</text><text x="3" y="62">&lt; 3</text><text class="r" x="137.3" y="62">0 rows</text></g>
<g id="genotypeprop" transform="translate(491,4304.1)"><rect class="hd" width="97.7" height="22.77"/><rect class="rw" y="22.77" width="97.7" height="22.77"/><rect class="rw" y="45.54" width="29.7" height="22.77"/><rect class="rw" x="29.7" y="45.54" width="50.3" height="22.77"/><rect class="rw" x="80" y="45.54" width="17.7" height="22.77"/><text class="h" x="48.85" y="16.4">genotypeprop</text><text x="4" y="39.2">...</text><text x="3" y="62">&lt; 2</text><text class="r" x="77" y="62">0 rows</text></g>
<g id="environment_cvterm" transform="translate(469.7,4400.1)"><rect class="hd" width="140.3" height="22.77"/><rect class="rw" y="22.77" width="140.3" height="22.77"/><rect class="rw" y="45.54" width="51" height="22.77"/><rect class="rw" x="51" y="45.54" width="61.6" height="22.77"/><rect class="rw" x="112.6" y="45.54" width="27.7" height="22.77"/><text class="h" x="70.15" y="16.4">environment_cvterm</text><text x="4" y="39.2">...</text><text x="3" y="62">&lt; 2</text><text class="r" x="109.6" y="62">0 rows</text></g>
<g id="nd_experiment_phenotype" transform="translate(448.3,4496.1)"><rect class="hd" width="181.7" height="22.77"/><rect class="rw" y="22.77" width="181.7" height="22.77"/><rect class="rw" y="45.54" width="70.7" height="22.77"/><rect class="rw" x="70.7" y="45.54" width="72.3" height="22.77"/><rect class="rw" x="143" y="45.54" width="38.7" height="22.77"/><text class="h" x="90.85" y="16.4">nd_experiment_phenotype</text><text x="4" y="39.2">...</text><text x="3" y="62">&lt; 2</text><text class="r" x="140" y="62">0 rows</text></g>
<g id="phenotype_cvterm" transform="translate(475,4592.1)"><rect class="hd" width="128.3" height="22.77"/><rect class="rw" y="22.77" width="128.3" height="22.77"/><rect class="rw" y="45.54" width="44" height="22.77"/><rect class="rw" x="44" y="45.54" width="59" height="22.77"/><rect class="rw" x="103" y="45.54" width="25.3" height="22.77"/><text class="h" x="64.15" y="16.4">phenotype_cvterm</text><text x="4" y="39.2">...</text><text x="3" y="62">&lt; 2</text><text class="r" x="100" y="62">0 rows</text></g>
<g id="feature_cvterm_pub" transform="translate(778.7,1340)"><rect class="hd" width="137.3" height="22.77"/><rect class="rw" y="22.77" width="137.3" height="22.77"/><rect class="rw" y="45.54" width="49.3" height="22.77"/><rect class="rw" x="49.3" y="45.54" width="61.3" height="22.77"/><rect class="rw" x="110.6" y="45.54" width="26.7" height="22.77"/><text class="h" x="68.65" y="16.4">feature_cvterm_pub</text><text x="4" y="39.2">...</text><text x="3" y="62">&lt; 2</text><text class="r" x="107.6" y="62">0 rows</text></g>
<g id="biomaterial" transform="translate(222.3,202.7)"><rect class="hd" width="107" height="22.77"/><rect class="rw" y="22.77" width="107" height="22.77"/><rect class="rw" y="45.54" width="28.4" height="22.77"/><rect class="rw" x="28.4" y="45.54" width="50.3" height="22.77"/><rect class="rw" x="78.7" y="45.54" width="28.3" height="22.77"/><text class="h" x="53.5" y="16.4">biomaterial</text><text x="4" y="39.2">...</text><text x="3" y="62">&lt; 3</text><text class="r" x="75.7" y="62">0 rows</text><text class="r" x="104" y="62">7 &gt;</text></g>
<g id="cell_line" transform="translate(222.3,298.7)"><rect class="hd" width="107" height="22.77"/><rect class="rw" y="22.77" width="107" height="22.77"/><rect class="rw" y="45.54" width="28.4" height="22.77"/><rect class="rw" x="28.4" y="45.54" width="50.3" height="22.77"/><rect class="rw" x="78.7" y="45.54" width="28.3" height="22.77"/><text class="h" x="53.5" y="16.4">cell_line</text><text x="4" y="39.2">...</text><text x="3" y="62">&lt; 1</text><text class="r" x="75.7" y="62">0 rows</text><text class="r" x="104" y="62">9 &gt;</text></g>
<g id="organism_dbxref" transform="translate(218.7,490.7)"><rect class="hd" width="116.3" height="22.77"/><rect class="rw" y="22.77" width="116.3" height="22.77"/><rect class="rw" y="45.54" width="38.3" height="22.77"/><rect class="rw" x="38.3" y="45.54" width="56.3" height="22.77"/><rect class="rw" x="94.6" y="45.54" width="21.7" height="22.77"/><text class="h" x="58.15" y="16.4">organism_dbxref</text><text x="4" y="39.2">...</text><text x="3" y="62">&lt; 2</text><text class="r" x="91.6" y="62">0 rows</text></g>
<g id="phylonode_organism" transform="translate(203.7,586.7)"><rect class="hd" width="144.6" height="22.77"/><rect class="rw" y="22.77" width="144.6" height="22.77"/><rect class="rw" y="45.54" width="52.3" height="22.77"/><rect class="rw" x="52.3" y="45.54" width="63" height="22.77"/><rect class="rw" x="115.3" y="45.54" width="29.3" height="22.77"/><text class="h" x="72.3" y="16.4">phylonode_organism</text><text x="4" y="39.2">...</text><text x="3" y="62">&lt; 2</text><text class="r" x="112.3" y="62">0 rows</text></g>
<g id="library" transform="translate(222.7,682.7)"><rect class="hd" width="106.6" height="22.77"/><rect class="rw" y="22.77" width="106.6" height="22.77"/><rect class="rw" y="45.54" width="28" height="22.77"/><rect class="rw" x="28" y="45.54" width="50.3" height="22.77"/><rect class="rw" x="78.3" y="45.54" width="28.3" height="22.77"/><text class="h" x="53.3" y="16.4">library</text><text x="4" y="39.2">...</text><text x="3" y="62">&lt; 2</text><text class="r" x="75.3" y="62">0 rows</text><text class="r" x="103.6" y="62">7 &gt;</text></g>
<g id="feature" transform="translate(218.7,970.7)"><rect class="hd" width="114.6" height="22.77"/><rect class="rw" y="22.77" width="114.6" height="22.77"/><rect class="rw" y="45.54" width="28" height="22.77"/><rect class="rw" x="28" y="45.54" width="50" height="22.77"/><rect class="rw" x="78" y="45.54" width="36.6" height="22.77"/><text class="h" x="57.3" y="16.4">feature</text><text x="4" y="39.2">...</text><text x="3" y="62">&lt; 3</text><text class="r" x="75" y="62">0 rows</text><text class="r" x="111.6" y="62">26 &gt;</text></g>
<g id="organismprop" transform="translate(227.5,1140)"><rect class="hd" width="97" height="22.77"/><rect class="rw" y="22.77" width="97" height="22.77"/><rect class="rw" y="45.54" width="28" height="22.77"/><rect class="rw" x="28" y="45.54" width="50" height="22.77"/><rect class="rw" x="78" y="45.54" width="19" height="22.77"/><text class="h" x="48.5" y="16.4">organismprop</text><text x="4" y="39.2">...</text><text x="3" y="62">&lt; 2</text><text class="r" x="75" y="62">0 rows</text></g>
<g id="stock" transform="translate(222.7,3253.6)"><rect class="hd" width="106.6" height="22.77"/><rect class="rw" y="22.77" width="106.6" height="22.77"/><rect class="rw" y="45.54" width="28" height="22.77"/><rect class="rw" x="28" y="45.54" width="50.3" height="22.77"/><rect class="rw" x="78.3" y="45.54" width="28.3" height="22.77"/><text class="h" x="53.3" y="16.4">stock</text><text x="4" y="39.2">...</text><text x="3" y="62">&lt; 3</text><text class="r" x="75.3" y="62">0 rows</text><text class="r" x="103.6" y="62">9 &gt;</text></g>
<g id="cvterm" transform="translate(15.7,3539.8)"><rect class="hd" width="123" height="22.77"/><rect class="rw" y="22.77" width="123" height="22.77"/><rect class="rw" y="45.54" width="28" height="22.77"/><rect class="rw" x="28" y="45.54" width="51" height="22.77"/><rect class="rw" x="79" y="45.54" width="44" height="22.77"/><text class="h" x="61.5" y="16.4">cvterm</text><text x="4" y="39.2">...</text><text x="3" y="62">&lt; 2</text><text class="r" x="76" y="62">0 rows</text><text class="r" x="120" y="62">104 &gt;</text></g>
<g id="organism" transform="translate(23.3,684)">
<rect class="hd" width="109" height="22.77"/><rect class="pk" y="22.77" width="109" height="22.77"/><rect class="rw" y="45.54" width="109" height="22.77"/><rect class="ix" y="68.31" width="109" height="22.77"/><rect class="ix" y="91.08" width="109" height="22.77"/><rect class="rw" y="113.85" width="109" height="22.77"/><rect class="rw" y="136.62" width="109" height="22.77"/>
<rect class="rw" y="159.39" width="23.4" height="22.77"/><rect class="rw" x="23.4" y="159.39" width="53" height="22.77"/><rect class="rw" x="76.4" y="159.39" width="32.6" height="22.77"/>
<text class="h" x="54.5" y="16.4">organism</text><text x="4" y="39.17">organism_id</text><text x="4" y="61.94">abbreviation</text><text x="4" y="84.71">genus</text><text x="4" y="107.48">species</text><text x="4" y="130.25">common_name</text><text x="4" y="153.02">comment</text>
<text class="r" x="73.4" y="175.79">0 rows</text><text class="r" x="106" y="175.79">9 &gt;</text>
</g>
<g id="pub" transform="translate(218.3,2060)">
<rect class="hd" width="115" height="22.77"/><rect class="pk" y="22.77" width="115" height="22.77"/><rect class="rw" y="45.54" width="115" height="22.77"/><rect class="rw" y="68.31" width="115" height="22.77"/><rect class="rw" y="91.08" width="115" height="22.77"/><rect class="rw" y="113.85" width="115" height="22.77"/><rect class="rw" y="136.62" width="115" height="22.77"/><rect class="rw" y="159.39" width="115" height="22.77"/><rect class="rw" y="182.16" width="115" height="22.77"/><rect class="rw" y="204.93" width="115" height="22.77"/><rect class="ix" y="227.7" width="115" height="22.77"/><rect class="ix" y="250.47" width="115" height="22.77"/><rect class="rw" y="273.24" width="115" height="22.77"/><rect class="rw" y="296.01" width="115" height="22.77"/><rect class="rw" y="318.78" width="115" height="22.77"/>
<rect class="rw" y="341.55" width="28" height="22.77"/><rect class="rw" x="28" y="341.55" width="50.7" height="22.77"/><rect class="rw" x="78.7" y="341.55" width="36.3" height="22.77"/>
<text class="h" x="57.5" y="16.4">pub</text><text x="4" y="39.17">pub_id</text><text x="4" y="61.94">title</text><text x="4" y="84.71">volumetitle</text><text x="4" y="107.48">volume</text><text x="4" y="130.25">series_name</text><text x="4" y="153.02">issue</text><text x="4" y="175.79">pyear</text><text x="4" y="198.56">pages</text><text x="4" y="221.33">miniref</text><text x="4" y="244.1">uniquename</text><text x="4" y="266.87">type_id</text><text x="4" y="289.64">is_obsolete</text><text x="4" y="312.41">publisher</text><text x="4" y="335.18">pubplace</text>
<text x="3" y="357.95">&lt; 1</text><text class="r" x="75.7" y="357.95">0 rows</text><text class="r" x="112" y="357.95">41 &gt;</text>
</g>
<g id="genotype" transform="translate(222.7,3449.5)">
<rect class="hd" width="106.6" height="22.77"/><rect class="pk" y="22.77" width="106.6" height="22.77"/><rect class="ix" y="45.54" width="106.6" height="22.77"/><rect class="ix" y="68.31" width="106.6" height="22.77"/><rect class="rw" y="91.08" width="106.6" height="22.77"/><rect class="rw" y="113.85" width="106.6" height="22.77"/>
<rect class="rw" y="136.62" width="28" height="22.77"/><rect class="rw" x="28" y="136.62" width="50.3" height="22.77"/><rect class="rw" x="78.3" y="136.62" width="28.3" height="22.77"/>
<text class="h" x="53.3" y="16.4">genotype</text><text x="4" y="39.17">genotype_id</text><text x="4" y="61.94">name</text><text x="4" y="84.71">uniquename</text><text x="4" y="107.48">description</text><text x="4" y="130.25">type_id</text>
<text x="3" y="153.02">&lt; 1</text><text class="r" x="75.3" y="153.02">0 rows</text><text class="r" x="103.6" y="153.02">8 &gt;</text>
</g>
<g id="environment" transform="translate(222.7,3636.5)">
<rect class="hd" width="108" height="22.77"/><rect class="pk" y="22.77" width="108" height="22.77"/><rect class="ix" y="45.54" width="108" height="22.77"/><rect class="rw" y="68.31" width="108" height="22.77"/>
<rect class="rw" y="91.08" width="24" height="22.77"/><rect class="rw" x="24" y="91.08" width="53" height="22.77"/><rect class="rw" x="77" y="91.08" width="31" height="22.77"/>
<text class="h" x="54" y="16.4">environment</text><text x="4" y="39.17">environment_id</text><text x="4" y="61.94">uniquename</text><text x="4" y="84.71">description</text>
<text class="r" x="74" y="107.48">0 rows</text><text class="r" x="105" y="107.48">5 &gt;</text>
</g>
<g id="phenotype" transform="translate(222.7,3777)">
<rect class="hd" width="107" height="22.77"/><rect class="pk" y="22.77" width="107" height="22.77"/><rect class="ix" y="45.54" width="107" height="22.77"/><rect class="rw" y="68.31" width="107" height="22.77"/><rect class="ix" y="91.08" width="107" height="22.77"/><rect class="ix" y="113.85" width="107" height="22.77"/><rect class="rw" y="136.62" width="107" height="22.77"/><rect class="ix" y="159.39" width="107" height="22.77"/><rect class="rw" y="182.16" width="107" height="22.77"/>
<rect class="rw" y="204.93" width="28.4" height="22.77"/><rect class="rw" x="28.4" y="204.93" width="50.3" height="22.77"/><rect class="rw" x="78.7" y="204.93" width="28.3" height="22.77"/>
<text class="h" x="53.5" y="16.4">phenotype</text><text x="4" y="39.17">phenotype_id</text><text x="4" y="61.94">uniquename</text><text x="4" y="84.71">name</text><text x="4" y="107.48">observable_id</text><text x="4" y="130.25">attr_id</text><text x="4" y="153.02">value</text><text x="4" y="175.79">cvalue_id</text><text x="4" y="198.56">assay_id</text>
<text x="3" y="221.33">&lt; 4</text><text class="r" x="75.7" y="221.33">0 rows</text><text class="r" x="104" y="221.33">8 &gt;</text>
</g>
<text x="12" y="4752">Generated by SchemaSpy</text>
</g>
</g>
</svg>
